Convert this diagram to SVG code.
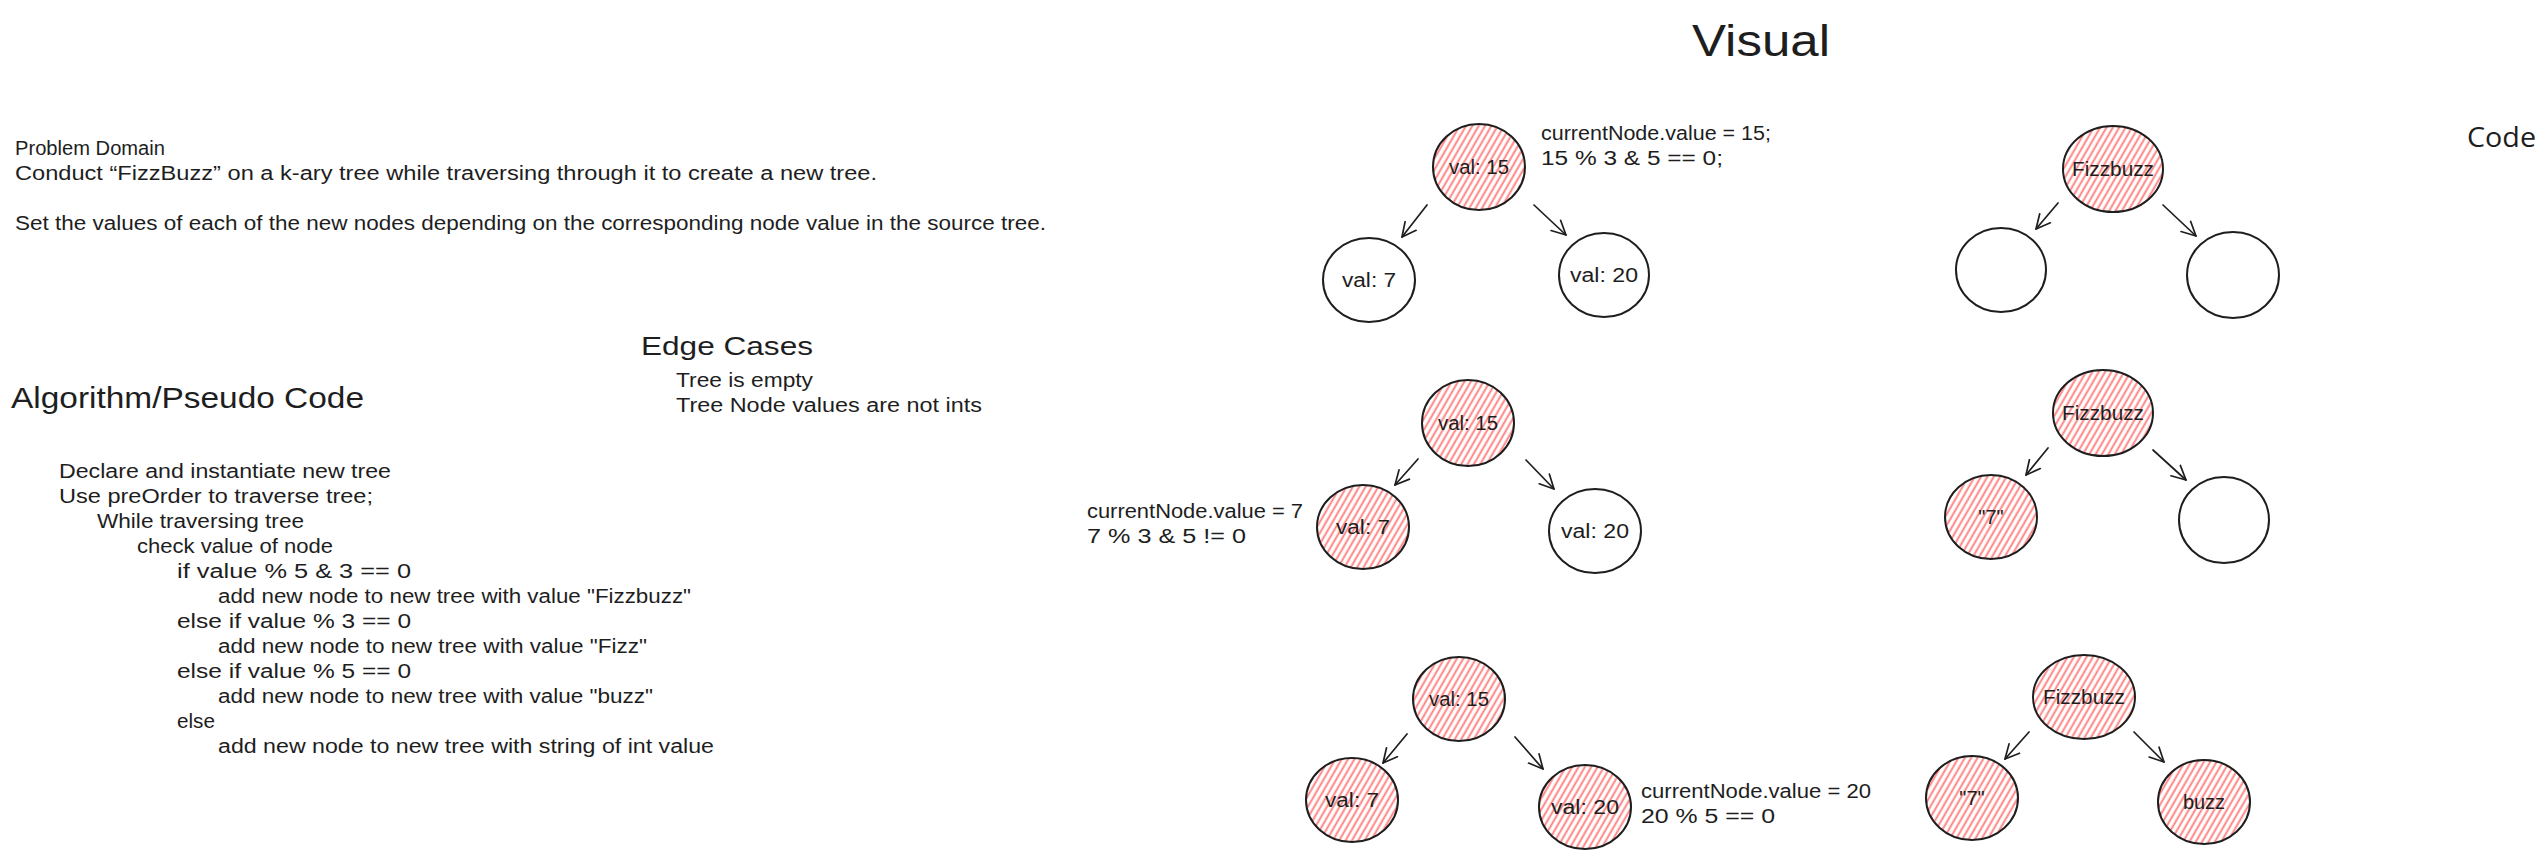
<svg xmlns="http://www.w3.org/2000/svg" width="2548" height="859" viewBox="0 0 2548 859">
<defs>
<pattern id="hatch" width="5.5" height="10" patternUnits="userSpaceOnUse" patternTransform="rotate(30)">
<line x1="1.5" y1="0" x2="1.5" y2="10" stroke="#ff8080" stroke-width="1.9"/>
</pattern>
<marker id="arrow" markerWidth="18" markerHeight="18" refX="15" refY="9" orient="auto" markerUnits="userSpaceOnUse">
<path d="M1,2 L15,9 L1,16" fill="none" stroke="#1e1e1e" stroke-width="1.7" stroke-linecap="round" stroke-linejoin="round"/>
</marker>
<style>
.t { font-family: "Liberation Sans", Arial, sans-serif; font-size: 20px; fill: #1e1e1e; }
.m { text-anchor: middle; }
.big { font-size: 30px; }
.mid { font-size: 26px; }
.title { font-size: 44px; }
.code { font-family: "Open Sans", "Liberation Sans", sans-serif; font-size: 28px; fill: #1e1e1e; }
.n { fill: none; stroke: #1e1e1e; stroke-width: 2; }
.h { fill: url(#hatch); stroke: #1e1e1e; stroke-width: 2; }
.c { fill: none; stroke: #1e1e1e; stroke-width: 1.7; stroke-linecap: round; marker-end: url(#arrow); }
</style>
</defs>
<rect width="2548" height="859" fill="#ffffff"/>

<g id="problem-domain">
<text class="t" x="15" y="155" textLength="150" lengthAdjust="spacingAndGlyphs">Problem Domain</text>
<text class="t" x="15" y="180" textLength="862" lengthAdjust="spacingAndGlyphs">Conduct “FizzBuzz” on a k-ary tree while traversing through it to create a new tree.</text>
<text class="t" x="15" y="230" textLength="1031" lengthAdjust="spacingAndGlyphs">Set the values of each of the new nodes depending on the corresponding node value in the source tree.</text>
</g>

<g id="edge-cases">
<text class="t mid" x="641" y="355" textLength="172" lengthAdjust="spacingAndGlyphs">Edge Cases</text>
<text class="t" x="676" y="387" textLength="137" lengthAdjust="spacingAndGlyphs">Tree is empty</text>
<text class="t" x="676" y="412" textLength="306" lengthAdjust="spacingAndGlyphs">Tree Node values are not ints</text>
</g>

<g id="algorithm">
<text class="t big" x="11" y="408" textLength="353" lengthAdjust="spacingAndGlyphs">Algorithm/Pseudo Code</text>
<text class="t" x="59" y="478" textLength="332" lengthAdjust="spacingAndGlyphs">Declare and instantiate new tree</text>
<text class="t" x="59" y="503" textLength="314" lengthAdjust="spacingAndGlyphs">Use preOrder to traverse tree;</text>
<text class="t" x="97" y="528" textLength="207" lengthAdjust="spacingAndGlyphs">While traversing tree</text>
<text class="t" x="137" y="553" textLength="196" lengthAdjust="spacingAndGlyphs">check value of node</text>
<text class="t" x="177" y="578" textLength="234" lengthAdjust="spacingAndGlyphs">if value % 5 &amp; 3 == 0</text>
<text class="t" x="218" y="603" textLength="473" lengthAdjust="spacingAndGlyphs">add new node to new tree with value "Fizzbuzz"</text>
<text class="t" x="177" y="628" textLength="234" lengthAdjust="spacingAndGlyphs">else if value % 3 == 0</text>
<text class="t" x="218" y="653" textLength="429" lengthAdjust="spacingAndGlyphs">add new node to new tree with value "Fizz"</text>
<text class="t" x="177" y="678" textLength="234" lengthAdjust="spacingAndGlyphs">else if value % 5 == 0</text>
<text class="t" x="218" y="703" textLength="435" lengthAdjust="spacingAndGlyphs">add new node to new tree with value "buzz"</text>
<text class="t" x="177" y="728" textLength="38" lengthAdjust="spacingAndGlyphs">else</text>
<text class="t" x="218" y="753" textLength="496" lengthAdjust="spacingAndGlyphs">add new node to new tree with string of int value</text>
</g>

<g id="title-visual">
<text class="t title" x="1692" y="56" textLength="138" lengthAdjust="spacingAndGlyphs">Visual</text>
</g>
<g id="title-code">
<text class="code" x="2467" y="147" textLength="69" lengthAdjust="spacingAndGlyphs">Code</text>
</g>

<g id="note-1">
<text class="t" x="1541" y="140" textLength="230" lengthAdjust="spacingAndGlyphs">currentNode.value = 15;</text>
<text class="t" x="1541" y="165" textLength="182" lengthAdjust="spacingAndGlyphs">15 % 3 &amp; 5 == 0;</text>
</g>
<g id="note-2">
<text class="t" x="1087" y="518" textLength="216" lengthAdjust="spacingAndGlyphs">currentNode.value = 7</text>
<text class="t" x="1087" y="543" textLength="159" lengthAdjust="spacingAndGlyphs">7 % 3 &amp; 5 != 0</text>
</g>
<g id="note-3">
<text class="t" x="1641" y="798" textLength="230" lengthAdjust="spacingAndGlyphs">currentNode.value = 20</text>
<text class="t" x="1641" y="823" textLength="134" lengthAdjust="spacingAndGlyphs">20 % 5 == 0</text>
</g>

<g id="connectors">
<line class="c" x1="1427" y1="205" x2="1402" y2="237"/>
<line class="c" x1="1534" y1="205" x2="1566" y2="235"/>
<line class="c" x1="2058" y1="203" x2="2036" y2="229"/>
<line class="c" x1="2163" y1="205" x2="2196" y2="236"/>
<line class="c" x1="1418" y1="459" x2="1395" y2="485"/>
<line class="c" x1="1526" y1="460" x2="1554" y2="489"/>
<line class="c" x1="2048" y1="448" x2="2026" y2="475"/>
<line class="c" x1="2153" y1="450" x2="2186" y2="480"/>
<line class="c" x1="1407" y1="734" x2="1383" y2="763"/>
<line class="c" x1="1515" y1="737" x2="1543" y2="769"/>
<line class="c" x1="2029" y1="732" x2="2005" y2="759"/>
<line class="c" x1="2134" y1="732" x2="2164" y2="762"/>
</g>

<g id="s1-root"><ellipse class="h" cx="1479" cy="167" rx="46" ry="43"/><text class="t m" x="1479" y="174" textLength="60" lengthAdjust="spacingAndGlyphs">val: 15</text></g>
<g id="s1-left"><ellipse class="n" cx="1369" cy="280" rx="46" ry="42"/><text class="t m" x="1369" y="287" textLength="54" lengthAdjust="spacingAndGlyphs">val: 7</text></g>
<g id="s1-right"><ellipse class="n" cx="1604" cy="275" rx="45" ry="42"/><text class="t m" x="1604" y="282" textLength="68" lengthAdjust="spacingAndGlyphs">val: 20</text></g>

<g id="r1-root"><ellipse class="h" cx="2113" cy="169" rx="50" ry="43"/><text class="t m" x="2113" y="176" textLength="82" lengthAdjust="spacingAndGlyphs">Fizzbuzz</text></g>
<g id="r1-left"><ellipse class="n" cx="2001" cy="270" rx="45" ry="42"/></g>
<g id="r1-right"><ellipse class="n" cx="2233" cy="275" rx="46" ry="43"/></g>

<g id="s2-root"><ellipse class="h" cx="1468" cy="423" rx="46" ry="43"/><text class="t m" x="1468" y="430" textLength="60" lengthAdjust="spacingAndGlyphs">val: 15</text></g>
<g id="s2-left"><ellipse class="h" cx="1363" cy="527" rx="46" ry="42"/><text class="t m" x="1363" y="534" textLength="54" lengthAdjust="spacingAndGlyphs">val: 7</text></g>
<g id="s2-right"><ellipse class="n" cx="1595" cy="531" rx="46" ry="42"/><text class="t m" x="1595" y="538" textLength="68" lengthAdjust="spacingAndGlyphs">val: 20</text></g>

<g id="r2-root"><ellipse class="h" cx="2103" cy="413" rx="50" ry="43"/><text class="t m" x="2103" y="420" textLength="82" lengthAdjust="spacingAndGlyphs">Fizzbuzz</text></g>
<g id="r2-left"><ellipse class="h" cx="1991" cy="517" rx="46" ry="42"/><text class="t m" x="1991" y="524">"7"</text></g>
<g id="r2-right"><ellipse class="n" cx="2224" cy="520" rx="45" ry="43"/></g>

<g id="s3-root"><ellipse class="h" cx="1459" cy="699" rx="46" ry="42"/><text class="t m" x="1459" y="706" textLength="60" lengthAdjust="spacingAndGlyphs">val: 15</text></g>
<g id="s3-left"><ellipse class="h" cx="1352" cy="800" rx="46" ry="42"/><text class="t m" x="1352" y="807" textLength="54" lengthAdjust="spacingAndGlyphs">val: 7</text></g>
<g id="s3-right"><ellipse class="h" cx="1585" cy="807" rx="46" ry="42"/><text class="t m" x="1585" y="814" textLength="68" lengthAdjust="spacingAndGlyphs">val: 20</text></g>

<g id="r3-root"><ellipse class="h" cx="2084" cy="697" rx="51" ry="42"/><text class="t m" x="2084" y="704" textLength="82" lengthAdjust="spacingAndGlyphs">Fizzbuzz</text></g>
<g id="r3-left"><ellipse class="h" cx="1972" cy="798" rx="46" ry="42"/><text class="t m" x="1972" y="805">"7"</text></g>
<g id="r3-right"><ellipse class="h" cx="2204" cy="802" rx="46" ry="42"/><text class="t m" x="2204" y="809">buzz</text></g>
</svg>
